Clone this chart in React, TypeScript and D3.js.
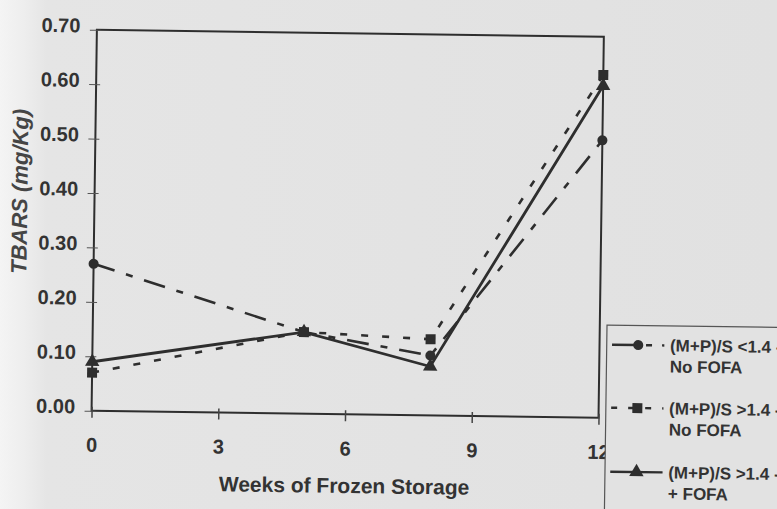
import React, { useEffect, useRef } from 'react'
import { select, scaleLinear, line, symbol, symbolCircle, symbolSquare, symbolTriangle, axisLeft, axisBottom, format } from 'd3'

// weeks of frozen storage at which TBARS was measured
const weeks = [0, 5, 8, 12]
const lowRatioNoFofa = [0.27, 0.15, 0.11, 0.51]
const highRatioNoFofa = [0.07, 0.15, 0.14, 0.63]
const highRatioFofa = [0.09, 0.15, 0.09, 0.61]

const yTicks = [0, 0.1, 0.2, 0.3, 0.4, 0.5, 0.6, 0.7]
const xTicks = [0, 3, 6, 9, 12]

const legendLabels = [
  ['(M+P)/S <1.4 -', 'No FOFA'],
  ['(M+P)/S >1.4 -', 'No FOFA'],
  ['(M+P)/S >1.4 -', '+ FOFA'],
]

const xTitle = 'Weeks of Frozen Storage'
const yTitle = 'TBARS (mg/Kg)'

const width = 777
const height = 509
const plot = { left: 94.2, right: 601.2, top: 33.3, bottom: 414.3 }
const ink = '#2e2e2e'
const font = '"Liberation Sans", Arial, sans-serif'

function App() {
  const svgRef = useRef(null)

  useEffect(() => {
    const svg = select(svgRef.current)
    svg.selectAll('*').remove()

    const defs = svg.append('defs')
    const grad = defs.append('linearGradient').attr('id', 'paper')
    grad.append('stop').attr('offset', '0%').attr('stop-color', '#f4f4f4')
    grad.append('stop').attr('offset', '3%').attr('stop-color', '#eeeeee')
    grad.append('stop').attr('offset', '6%').attr('stop-color', '#e5e5e5')
    grad.append('stop').attr('offset', '100%').attr('stop-color', '#e1e1e1')

    svg.append('rect').attr('width', width).attr('height', height).attr('fill', 'url(#paper)')

    // the scan is tilted a little clockwise
    const g = svg.append('g').attr('transform', 'rotate(0.8 347.7 223.8)')

    const x = scaleLinear().domain([0, 12]).range([plot.left, plot.right])
    const y = scaleLinear().domain([0, 0.7]).range([plot.bottom, plot.top])

    // frame
    g.append('rect')
      .attr('x', plot.left).attr('y', plot.top)
      .attr('width', plot.right - plot.left).attr('height', plot.bottom - plot.top)
      .attr('fill', 'none').attr('stroke', ink).attr('stroke-width', 2)

    const yAxis = g.append('g')
      .attr('transform', `translate(${plot.left},0)`)
      .call(axisLeft(y).tickValues(yTicks).tickFormat(format('.2f')).tickSize(7).tickPadding(7))
    yAxis.select('.domain').remove()
    yAxis.selectAll('.tick line').attr('stroke', '#555').attr('x2', -7).attr('x1', 4).attr('stroke-width', 1)
    yAxis.selectAll('.tick text')
      .attr('font-family', font).attr('font-size', 20).attr('font-weight', 'bold')
      .attr('fill', '#333').attr('dy', '0.12em').attr('x', -16.5)

    const xAxis = g.append('g')
      .attr('transform', `translate(0,${plot.bottom})`)
      .call(axisBottom(x).tickValues(xTicks).tickSize(7).tickPadding(20))
    xAxis.select('.domain').remove()
    xAxis.selectAll('.tick line').attr('stroke', '#444').attr('y1', -4).attr('stroke-width', 1.5)
    xAxis.selectAll('.tick text')
      .attr('font-family', font).attr('font-size', 20).attr('font-weight', 'bold')
      .attr('fill', '#333')

    g.append('text')
      .attr('x', (plot.left + plot.right) / 2).attr('y', 493)
      .attr('text-anchor', 'middle')
      .attr('font-family', font).attr('font-size', 21).attr('font-weight', 'bold')
      .attr('fill', '#333')
      .text(xTitle)

    g.append('text')
      .attr('transform', 'translate(27,196) rotate(-90)')
      .attr('text-anchor', 'middle')
      .attr('font-family', font).attr('font-size', 22).attr('font-weight', 'bold')
      .attr('font-style', 'italic')
      .attr('fill', '#454545')
      .text(yTitle)

    const series = [
      { values: lowRatioNoFofa, shape: symbolCircle, size: 80, dash: '22 12 7 12', legendDash: '24 10 6 10', width: 2.6 },
      { values: highRatioNoFofa, shape: symbolSquare, size: 100, dash: '7 14', legendDash: '6 11', width: 2.6 },
      { values: highRatioFofa, shape: symbolTriangle, size: 90, dash: null, legendDash: null, width: 2.8 },
    ]

    const path = line().x(d => x(d[0])).y(d => y(d[1]))

    series.forEach(s => {
      g.append('path')
        .attr('d', path(weeks.map((w, i) => [w, s.values[i]])))
        .attr('fill', 'none').attr('stroke', ink)
        .attr('stroke-width', s.width)
        .attr('stroke-dasharray', s.dash)
    })

    series.forEach(s => {
      g.selectAll(null)
        .data(weeks.map((w, i) => [w, s.values[i]]))
        .join('path')
        .attr('transform', d => `translate(${x(d[0])},${y(d[1])})`)
        .attr('d', symbol().type(s.shape).size(s.size)())
        .attr('fill', ink)
    })

    // legend
    const legend = g.append('g')
    legend.append('rect')
      .attr('x', 608.4).attr('y', 321.4).attr('width', 220).attr('height', 220)
      .attr('fill', '#e2e2e2').attr('stroke', '#555').attr('stroke-width', 1.2)

    const rowY = [341, 404, 468]
    series.forEach((s, i) => {
      legend.append('line')
        .attr('x1', 613.7).attr('x2', 666).attr('y1', rowY[i]).attr('y2', rowY[i])
        .attr('stroke', ink).attr('stroke-width', 2.4)
        .attr('stroke-dasharray', s.legendDash)
      legend.append('path')
        .attr('transform', `translate(639.9,${rowY[i]})`)
        .attr('d', symbol().type(s.shape).size(s.size)())
        .attr('fill', ink)
      legendLabels[i].forEach((t, j) => {
        legend.append('text')
          .attr('x', 671.7).attr('y', rowY[i] + 6 + j * 21)
          .attr('font-family', font).attr('font-size', 17).attr('font-weight', 'bold')
          .attr('fill', '#333')
          .text(t)
      })
    })
  }, [])

  return (
    <svg ref={svgRef} width={width} height={height}
      style={{ position: 'absolute', left: 0, top: 0, display: 'block' }} />
  )
}

export default App
